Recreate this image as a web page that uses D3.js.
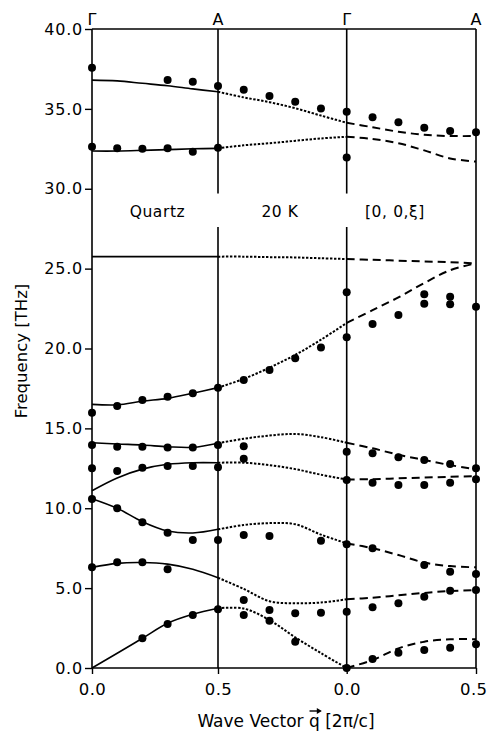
<!DOCTYPE html>
<html><head><meta charset="utf-8">
<script src="https://cdn.jsdelivr.net/npm/d3@7"></script>
<style>
body{margin:0;background:#fff}
text{font-family:"DejaVu Sans",sans-serif;fill:#000}
</style>
</head><body>
<svg id="c" width="488" height="735"></svg>
<script>
// ---------------- DATA ----------------
const qKnots = [0, 0.1, 0.2, 0.3, 0.4, 0.5];          // Γ → A  (segment 1, solid)
const qKnotsRev = [0.5, 0.4, 0.3, 0.2, 0.1, 0.0];     // A → Γ  (segment 2, dotted)
const seg1Branches = [
  [36.8, 36.75, 36.6, 36.45, 36.25, 36.07],
  [32.36, 32.36, 32.4, 32.45, 32.5, 32.53],
  [25.75, 25.75, 25.75, 25.75, 25.75, 25.75],
  [16.5, 16.47, 16.7, 16.88, 17.2, 17.55],
  [14.1, 14.02, 13.96, 13.85, 13.81, 14.07],
  [11.1, 11.9, 12.45, 12.75, 12.85, 12.85],
  [10.6, 10.0, 9.16, 8.58, 8.45, 8.68],
  [6.3, 6.55, 6.6, 6.5, 6.18, 5.65],
  [0.0, 0.92, 1.86, 2.8, 3.36, 3.74]
];
const seg2Branches = [
  [36.07, 35.72, 35.42, 35.04, 34.58, 34.13],
  [32.53, 32.72, 32.85, 33.0, 33.15, 33.25],
  [25.75, 25.75, 25.72, 25.7, 25.65, 25.6],
  [17.55, 18.1, 18.8, 19.6, 20.55, 21.6],
  [14.07, 14.35, 14.55, 14.65, 14.45, 14.1],
  [12.85, 12.85, 12.7, 12.45, 12.1, 11.8],
  [8.68, 8.95, 9.07, 9.0, 8.35, 7.8],
  [5.65, 4.95, 4.18, 4.05, 4.1, 4.3],
  [3.74, 3.72, 3.0, 1.92, 0.93, 0.0]
];
const seg3Branches = [
  [34.13, 33.85, 33.57, 33.38, 33.3, 33.3],
  [33.25, 33.12, 32.85, 32.4, 31.9, 31.7],
  [25.6, 25.55, 25.5, 25.45, 25.4, 25.33],
  [21.6, 22.4, 23.2, 24.1, 24.9, 25.33],
  [14.1, 13.75, 13.35, 13.02, 12.7, 12.44],
  [11.8, 11.82, 11.87, 11.92, 11.97, 12.0],
  [7.8, 7.5, 7.07, 6.6, 6.38, 6.3],
  [4.3, 4.4, 4.55, 4.7, 4.82, 4.88],
  [0.0, 0.5, 1.23, 1.65, 1.8, 1.8]
];
const dots1Q = [0,0.3,0.4,0.5, 0,0.1,0.2,0.3,0.4,0.5, 0,0.1,0.2,0.3,0.4,0.5, 0,0.1,0.2,0.3,0.4,0.5,
                0,0.1,0.2,0.3,0.4,0.5, 0,0.1,0.2,0.3,0.4,0.5, 0,0.1,0.2,0.3, 0.2,0.3,0.4,0.5];
const dots1F = [37.58,36.8,36.7,36.43, 32.63,32.53,32.5,32.53,32.32,32.57, 15.98,16.4,16.78,16.98,17.2,17.55,
                13.96,13.85,13.85,13.8,13.8,13.96, 12.5,12.33,12.54,12.64,12.64,12.56,
                10.58,10.0,9.12,8.47,8.01,8.01, 6.3,6.62,6.62,6.18, 1.86,2.75,3.32,3.67];
const dots2Q = [0.4,0.3,0.2,0.1, 0.4,0.3,0.2,0.1, 0.4,0.4, 0.4,0.3,0.1, 0.4,0.3,0.2,0.1, 0.4,0.3,0.2];
const dots2F = [36.2,35.8,35.45,35.03, 18.03,18.65,19.39,20.07, 13.88,13.1, 8.33,8.26,7.97,
                4.26,3.63,3.42,3.46, 3.32,2.96,1.65];
const dots3Q = [0,0,0,0,0,0,0,0,0, 0.1,0.1,0.1,0.1,0.1,0.1,0.1, 0.2,0.2,0.2,0.2,0.2,0.2,
                0.3,0.3,0.3,0.3,0.3,0.3,0.3,0.3, 0.4,0.4,0.4,0.4,0.4,0.4,0.4,0.4, 0.5,0.5,0.5,0.5,0.5,0.5,0.5];
const dots3F = [34.82,31.95,23.52,20.7,13.54,11.77,7.74,3.52,0.0,
                34.47,21.53,13.44,11.6,7.49,3.8,0.56,
                34.16,22.1,13.19,11.46,4.05,0.96,
                33.82,23.4,22.8,13.02,11.46,6.45,4.46,1.13,
                33.61,23.24,22.77,12.77,11.6,6.03,4.84,1.27,
                33.53,22.62,12.5,11.81,5.88,4.88,1.48];
const yTicks = [0,5,10,15,20,25,30,35,40];
const xTicks = [0, 0.5];
const symLabels = ["Γ","A","Γ","A"];
const infoLabels = ["Quartz","20 K","[0, 0,ξ]"];
const yTitle = "Frequency [THz]";
const xTitle = "Wave Vector q [2π/c]";

// ---------------- DRAW ----------------
const svg = d3.select("#c");
const y = d3.scaleLinear().domain([0,40]).range([668,29]);
const xs = [
  d3.scaleLinear().domain([0,0.5]).range([92,218]),
  d3.scaleLinear().domain([0.5,0]).range([218,346.7]),
  d3.scaleLinear().domain([0,0.5]).range([346.7,476])
];
const styles = [
  {dash:null, w:1.6},
  {dash:"2.4,1.6", w:2},
  {dash:"8,5", w:2}
];
const knots = [qKnots, qKnotsRev, qKnots];
const branches = [seg1Branches, seg2Branches, seg3Branches];

branches.forEach((set, s) => {
  const line = d3.line().x(d => xs[s](d[0])).y(d => y(d[1])).curve(d3.curveCatmullRom.alpha(0.5));
  set.forEach(vals => {
    svg.append("path")
      .attr("d", line(vals.map((v,i) => [knots[s][i], v])))
      .attr("fill","none").attr("stroke","#000")
      .attr("stroke-width", styles[s].w)
      .attr("stroke-dasharray", styles[s].dash);
  });
});

// frame
const xL = xs[0](0), xR = xs[2](0.5);
const frame = svg.append("g").attr("stroke","#000").attr("stroke-width",1.6);
frame.append("line").attr("x1",xL).attr("x2",xR).attr("y1",y(40)).attr("y2",y(40));
frame.append("line").attr("x1",xL).attr("x2",xR).attr("y1",y(0)).attr("y2",y(0));
frame.append("line").attr("x1",xL).attr("x2",xL).attr("y1",y(40)).attr("y2",y(0));
frame.append("line").attr("x1",xR).attr("x2",xR).attr("y1",y(40)).attr("y2",y(0));
[xs[0](0.5), xs[2](0)].forEach(xv => {
  frame.append("line").attr("x1",xv).attr("x2",xv).attr("y1",y(40)).attr("y2",y(29.7));
  frame.append("line").attr("x1",xv).attr("x2",xv).attr("y1",y(27.6)).attr("y2",y(0));
});

// dots
[[dots1Q,dots1F],[dots2Q,dots2F],[dots3Q,dots3F]].forEach(([qq,ff], s) => {
  svg.append("g").selectAll("circle").data(qq.map((q,i)=>[q,ff[i]])).join("circle")
    .attr("cx", d => xs[s](d[0])).attr("cy", d => y(d[1])).attr("r", 4).attr("fill","#000");
});

// axes
const yAx = svg.append("g").attr("transform",`translate(${xL},0)`)
  .call(d3.axisLeft(y).tickValues(yTicks).tickFormat(d3.format(".1f")).tickSize(7).tickPadding(2));
yAx.select(".domain").remove();
yAx.selectAll("line").attr("stroke-width",1.4);
yAx.selectAll("text").attr("font-size",16).attr("font-family","DejaVu Sans").style("letter-spacing","0.8px");

[0,2].forEach(s => {
  const g = svg.append("g").attr("transform",`translate(0,${y(0)})`)
    .call(d3.axisBottom(xs[s]).tickValues(xTicks).tickFormat(d3.format(".1f")).tickSize(6).tickPadding(9));
  g.select(".domain").remove();
  g.selectAll("line").attr("stroke-width",1.4);
  g.selectAll("text").attr("font-size",16.5).attr("font-family","DejaVu Sans").style("letter-spacing","0.4px");
  if (s === 2) g.selectAll("text").filter(d => d === 0.5).attr("text-anchor","end").attr("dx", 11);
});

// symmetry point labels
const symX = [xs[0](0), xs[0](0.5), xs[2](0), xs[2](0.5)];
svg.append("g").selectAll("text").data(symLabels).join("text")
  .attr("x",(d,i)=>symX[i]).attr("y",25).attr("text-anchor","middle")
  .attr("font-size",16).text(d=>d);

// info labels
const infoX = [157.5, 280, 395];
svg.append("g").selectAll("text").data(infoLabels).join("text")
  .attr("x",(d,i)=>infoX[i]).attr("y",217).attr("text-anchor","middle")
  .attr("font-size",15.5).style("letter-spacing","0.6px").text(d=>d);

// y title
svg.append("text").attr("transform","translate(27,351) rotate(-90)")
  .attr("text-anchor","middle").attr("font-size",16.5).text(yTitle);

// x title with vector arrow over q
const xt = svg.append("text").attr("x",286).attr("y",727).attr("text-anchor","middle")
  .attr("font-size",17).text(xTitle);
const node = xt.node();
const total = node.getComputedTextLength();
const qi = xTitle.indexOf("q");
const left0 = 286 - total/2;
const qs = left0 + node.getSubStringLength(0, qi);
const qw = node.getSubStringLength(qi, 1);
const ay = 727 - 16;
svg.append("line").attr("x1",qs+0.5).attr("x2",qs+qw+0.5).attr("y1",ay).attr("y2",ay)
  .attr("stroke","#000").attr("stroke-width",1.4);
svg.append("path").attr("d",`M${qs+qw+2},${ay} l-5,-3 l0,6 z`).attr("fill","#000");
</script>
</body></html>
